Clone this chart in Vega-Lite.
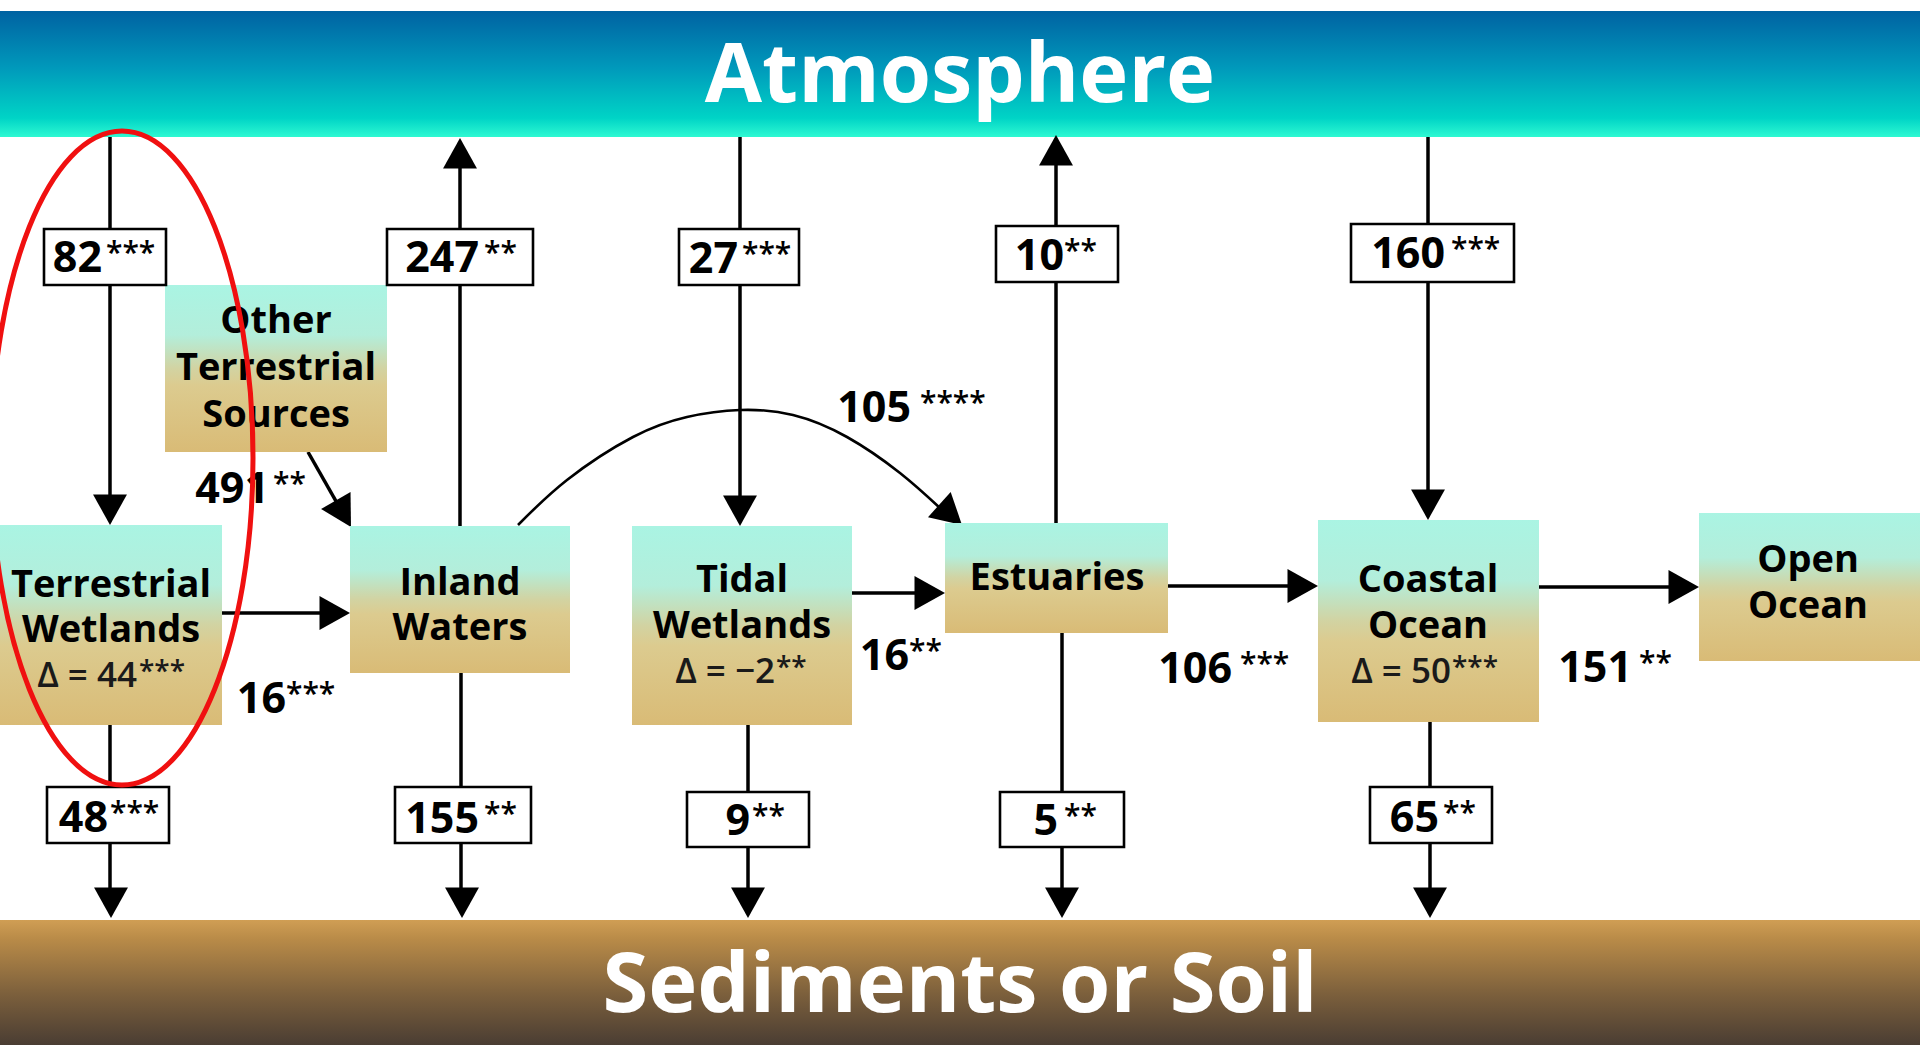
{
  "$schema": "https://vega.github.io/schema/vega-lite/v6.json",
  "width": 1920,
  "height": 1045,
  "autosize": {"type": "none"},
  "padding": 0,
  "background": "white",
  "config": {"view": {"stroke": null}},
  "datasets": {
    "bands": [
      {"band": "Atmosphere", "x": 0, "x2": 1920, "y": 11, "y2": 137},
      {"band": "Sediments or Soil", "x": 0, "x2": 1920, "y": 920, "y2": 1045}
    ],
    "bandLabels": [
      {"label": "Atmosphere", "x": 960, "y": 102},
      {"label": "Sediments or Soil", "x": 960, "y": 1012}
    ],
    "nodes": [
      {"node": "Terrestrial Wetlands", "x": 0, "x2": 222, "y": 525, "y2": 725},
      {"node": "Other Terrestrial Sources", "x": 165, "x2": 387, "y": 285, "y2": 452},
      {"node": "Inland Waters", "x": 350, "x2": 570, "y": 526, "y2": 673},
      {"node": "Tidal Wetlands", "x": 632, "x2": 852, "y": 526, "y2": 725},
      {"node": "Estuaries", "x": 945, "x2": 1168, "y": 523, "y2": 633},
      {"node": "Coastal Ocean", "x": 1318, "x2": 1539, "y": 520, "y2": 722},
      {"node": "Open Ocean", "x": 1699, "x2": 1920, "y": 513, "y2": 661}
    ],
    "nodeLines": [
      {"node": "Terrestrial Wetlands", "line": "Terrestrial", "x": 111, "y": 597},
      {"node": "Terrestrial Wetlands", "line": "Wetlands", "x": 111, "y": 642},
      {"node": "Other Terrestrial Sources", "line": "Other", "x": 276, "y": 333},
      {"node": "Other Terrestrial Sources", "line": "Terrestrial", "x": 276, "y": 380},
      {"node": "Other Terrestrial Sources", "line": "Sources", "x": 276, "y": 427},
      {"node": "Inland Waters", "line": "Inland", "x": 460, "y": 595},
      {"node": "Inland Waters", "line": "Waters", "x": 460, "y": 640},
      {"node": "Tidal Wetlands", "line": "Tidal", "x": 742, "y": 592},
      {"node": "Tidal Wetlands", "line": "Wetlands", "x": 742, "y": 638},
      {"node": "Estuaries", "line": "Estuaries", "x": 1057, "y": 590},
      {"node": "Coastal Ocean", "line": "Coastal", "x": 1428, "y": 592},
      {"node": "Coastal Ocean", "line": "Ocean", "x": 1428, "y": 638},
      {"node": "Open Ocean", "line": "Open", "x": 1808, "y": 572},
      {"node": "Open Ocean", "line": "Ocean", "x": 1808, "y": 618}
    ],
    "flows": [
      {"flow": "Atmosphere to Terrestrial Wetlands", "x": 110, "y": 137, "x2": 110, "y2": 510},
      {"flow": "Terrestrial Wetlands to Sediments", "x": 110, "y": 725, "x2": 110, "y2": 905},
      {"flow": "Inland Waters to Atmosphere", "x": 460, "y": 526, "x2": 460, "y2": 150},
      {"flow": "Inland Waters to Sediments", "x": 461, "y": 673, "x2": 461, "y2": 905},
      {"flow": "Atmosphere to Tidal Wetlands", "x": 740, "y": 137, "x2": 740, "y2": 510},
      {"flow": "Tidal Wetlands to Sediments", "x": 748, "y": 725, "x2": 748, "y2": 905},
      {"flow": "Estuaries to Atmosphere", "x": 1056, "y": 523, "x2": 1056, "y2": 150},
      {"flow": "Estuaries to Sediments", "x": 1062, "y": 633, "x2": 1062, "y2": 905},
      {"flow": "Atmosphere to Coastal Ocean", "x": 1428, "y": 137, "x2": 1428, "y2": 505},
      {"flow": "Coastal Ocean to Sediments", "x": 1430, "y": 722, "x2": 1430, "y2": 905},
      {"flow": "Terrestrial Wetlands to Inland Waters", "x": 222, "y": 613, "x2": 335, "y2": 613},
      {"flow": "Tidal Wetlands to Estuaries", "x": 852, "y": 593, "x2": 930, "y2": 593},
      {"flow": "Estuaries to Coastal Ocean", "x": 1168, "y": 586, "x2": 1303, "y2": 586},
      {"flow": "Coastal Ocean to Open Ocean", "x": 1539, "y": 587, "x2": 1684, "y2": 587},
      {"flow": "Other Terrestrial Sources to Inland Waters", "x": 308, "y": 452, "x2": 345, "y2": 517}
    ],
    "heads": [
      {"flow": "Atmosphere to Terrestrial Wetlands", "dir": "down", "x": 110, "y": 525},
      {"flow": "Terrestrial Wetlands to Sediments", "dir": "down", "x": 111, "y": 918},
      {"flow": "Inland Waters to Atmosphere", "dir": "up", "x": 460, "y": 138},
      {"flow": "Inland Waters to Sediments", "dir": "down", "x": 462, "y": 918},
      {"flow": "Atmosphere to Tidal Wetlands", "dir": "down", "x": 740, "y": 526},
      {"flow": "Tidal Wetlands to Sediments", "dir": "down", "x": 748, "y": 918},
      {"flow": "Estuaries to Atmosphere", "dir": "up", "x": 1056, "y": 135},
      {"flow": "Estuaries to Sediments", "dir": "down", "x": 1062, "y": 918},
      {"flow": "Atmosphere to Coastal Ocean", "dir": "down", "x": 1428, "y": 520},
      {"flow": "Coastal Ocean to Sediments", "dir": "down", "x": 1430, "y": 918},
      {"flow": "Terrestrial Wetlands to Inland Waters", "dir": "right", "x": 350, "y": 613},
      {"flow": "Tidal Wetlands to Estuaries", "dir": "right", "x": 945, "y": 593},
      {"flow": "Estuaries to Coastal Ocean", "dir": "right", "x": 1318, "y": 586},
      {"flow": "Coastal Ocean to Open Ocean", "dir": "right", "x": 1699, "y": 587},
      {"flow": "Other Terrestrial Sources to Inland Waters", "dir": "diag", "x": 351, "y": 527},
      {"flow": "Inland Waters to Estuaries", "dir": "curve", "x": 962, "y": 525}
    ],
    "curve": [
      {"i": 0, "x": 518, "y": 525},
      {"i": 1, "x": 567, "y": 480},
      {"i": 2, "x": 633, "y": 437},
      {"i": 3, "x": 687, "y": 417},
      {"i": 4, "x": 740, "y": 410},
      {"i": 5, "x": 793, "y": 415},
      {"i": 6, "x": 847, "y": 437},
      {"i": 7, "x": 900, "y": 473},
      {"i": 8, "x": 940, "y": 508}
    ],
    "boxes": [
      {"num": "82", "x": 44, "x2": 166, "y": 229, "y2": 285},
      {"num": "247", "x": 387, "x2": 533, "y": 229, "y2": 285},
      {"num": "27", "x": 679, "x2": 799, "y": 229, "y2": 285},
      {"num": "10", "x": 996, "x2": 1118, "y": 226, "y2": 282},
      {"num": "160", "x": 1351, "x2": 1514, "y": 224, "y2": 282},
      {"num": "48", "x": 47, "x2": 169, "y": 787, "y2": 843},
      {"num": "155", "x": 395, "x2": 531, "y": 787, "y2": 843},
      {"num": "9", "x": 687, "x2": 809, "y": 792, "y2": 847},
      {"num": "5", "x": 1000, "x2": 1124, "y": 792, "y2": 847},
      {"num": "65", "x": 1370, "x2": 1492, "y": 787, "y2": 843}
    ],
    "values": [
      {"num": "82", "ast": "***", "nx": 102, "ax": 106, "y": 272},
      {"num": "247", "ast": "**", "nx": 479, "ax": 484, "y": 272},
      {"num": "27", "ast": "***", "nx": 738, "ax": 742, "y": 273},
      {"num": "10", "ast": "**", "nx": 1064, "ax": 1064, "y": 270},
      {"num": "160", "ast": "***", "nx": 1445, "ax": 1451, "y": 268},
      {"num": "48", "ast": "***", "nx": 108, "ax": 110, "y": 832},
      {"num": "155", "ast": "**", "nx": 479, "ax": 484, "y": 833},
      {"num": "9", "ast": "**", "nx": 750, "ax": 752, "y": 835},
      {"num": "5", "ast": "**", "nx": 1058, "ax": 1064, "y": 835},
      {"num": "65", "ast": "**", "nx": 1439, "ax": 1443, "y": 832},
      {"num": "491", "ast": "**", "nx": 269, "ax": 273, "y": 503},
      {"num": "16", "ast": "***", "nx": 286, "ax": 286, "y": 713},
      {"num": "105", "ast": "****", "nx": 911, "ax": 920, "y": 422},
      {"num": "16", "ast": "**", "nx": 909, "ax": 909, "y": 670},
      {"num": "106", "ast": "***", "nx": 1232, "ax": 1240, "y": 683},
      {"num": "151", "ast": "**", "nx": 1632, "ax": 1639, "y": 682}
    ],
    "deltas": [
      {"node": "Terrestrial Wetlands", "delta": "Δ = 44", "ast": "***", "nx": 137, "ax": 139, "y": 687},
      {"node": "Tidal Wetlands", "delta": "Δ = −2", "ast": "**", "nx": 775, "ax": 776, "y": 683},
      {"node": "Coastal Ocean", "delta": "Δ = 50", "ast": "***", "nx": 1451, "ax": 1452, "y": 683}
    ],
    "marker": [
      {"note": "highlight", "x": 122, "y": 458}
    ]
  },
  "layer": [
    {
      "data": {"name": "bands"},
      "transform": [{"filter": "datum.band === 'Atmosphere'"}],
      "mark": {"type": "rect", "fill": {"gradient": "linear", "x1": 0, "y1": 0, "x2": 0, "y2": 1, "stops": [
        {"offset": 0, "color": "#0062a2"},
        {"offset": 0.45, "color": "#0099bb"},
        {"offset": 0.85, "color": "#00d4c6"},
        {"offset": 1, "color": "#2ef9d2"}]}},
      "encoding": {
        "x": {"field": "x", "type": "quantitative", "scale": {"domain": [0, 1920], "nice": false, "zero": false}, "axis": null},
        "x2": {"field": "x2"},
        "y": {"field": "y", "type": "quantitative", "scale": {"domain": [0, 1045], "nice": false, "zero": false, "reverse": true}, "axis": null},
        "y2": {"field": "y2"}
      }
    },
    {
      "data": {"name": "bands"},
      "transform": [{"filter": "datum.band !== 'Atmosphere'"}],
      "mark": {"type": "rect", "fill": {"gradient": "linear", "x1": 0, "y1": 0, "x2": 0, "y2": 1, "stops": [
        {"offset": 0, "color": "#d09e54"},
        {"offset": 0.15, "color": "#b98b48"},
        {"offset": 0.6, "color": "#7b5f3c"},
        {"offset": 1, "color": "#4a3d33"}]}},
      "encoding": {
        "x": {"field": "x", "type": "quantitative", "axis": null},
        "x2": {"field": "x2"},
        "y": {"field": "y", "type": "quantitative", "axis": null},
        "y2": {"field": "y2"}
      }
    },
    {
      "data": {"name": "bandLabels"},
      "mark": {"type": "text", "align": "center", "baseline": "alphabetic", "font": "Open Sans", "fontWeight": "bold", "fontSize": 83, "fill": "white"},
      "encoding": {
        "x": {"field": "x", "type": "quantitative", "axis": null},
        "y": {"field": "y", "type": "quantitative", "axis": null},
        "text": {"field": "label"}
      }
    },
    {
      "data": {"name": "flows"},
      "mark": {"type": "rule", "stroke": "black", "strokeWidth": 3.5},
      "encoding": {
        "x": {"field": "x", "type": "quantitative", "axis": null},
        "x2": {"field": "x2"},
        "y": {"field": "y", "type": "quantitative", "axis": null},
        "y2": {"field": "y2"}
      }
    },
    {
      "data": {"name": "curve"},
      "mark": {"type": "line", "stroke": "black", "strokeWidth": 2.6, "interpolate": "natural"},
      "encoding": {
        "x": {"field": "x", "type": "quantitative", "axis": null},
        "y": {"field": "y", "type": "quantitative", "axis": null},
        "order": {"field": "i", "type": "quantitative"}
      }
    },
    {
      "data": {"name": "heads"},
      "mark": {"type": "point", "filled": true, "fill": "black", "opacity": 1, "size": 1150, "strokeWidth": 0},
      "encoding": {
        "x": {"field": "x", "type": "quantitative", "axis": null},
        "y": {"field": "y", "type": "quantitative", "axis": null},
        "shape": {"field": "dir", "type": "nominal", "legend": null, "scale": {
          "domain": ["down", "up", "right", "diag", "curve"],
          "range": [
            "M-1,-1.8L1,-1.8L0,0Z",
            "M-1,1.8L1,1.8L0,0Z",
            "M-1.8,-1L-1.8,1L0,0Z",
            "M-1.764,-1.064L-0.028,-2.06L0,0Z",
            "M-2.006,-0.461L-0.668,-1.947L0,0Z"
          ]}}
      }
    },
    {
      "data": {"name": "nodes"},
      "mark": {"type": "rect", "fill": {"gradient": "linear", "x1": 0, "y1": 0, "x2": 0, "y2": 1, "stops": [
        {"offset": 0, "color": "#aaf4e3"},
        {"offset": 0.3, "color": "#b3eedb"},
        {"offset": 0.5, "color": "#d2d3a2"},
        {"offset": 0.6, "color": "#dccb8f"},
        {"offset": 1, "color": "#d9bb76"}]}},
      "encoding": {
        "x": {"field": "x", "type": "quantitative", "axis": null},
        "x2": {"field": "x2"},
        "y": {"field": "y", "type": "quantitative", "axis": null},
        "y2": {"field": "y2"}
      }
    },
    {
      "data": {"name": "nodeLines"},
      "mark": {"type": "text", "align": "center", "baseline": "alphabetic", "font": "Open Sans", "fontWeight": "bold", "fontSize": 38, "fill": "black"},
      "encoding": {
        "x": {"field": "x", "type": "quantitative", "axis": null},
        "y": {"field": "y", "type": "quantitative", "axis": null},
        "text": {"field": "line"}
      }
    },
    {
      "data": {"name": "boxes"},
      "mark": {"type": "rect", "fill": "white", "stroke": "black", "strokeWidth": 2.6},
      "encoding": {
        "x": {"field": "x", "type": "quantitative", "axis": null},
        "x2": {"field": "x2"},
        "y": {"field": "y", "type": "quantitative", "axis": null},
        "y2": {"field": "y2"}
      }
    },
    {
      "data": {"name": "values"},
      "mark": {"type": "text", "align": "right", "baseline": "alphabetic", "font": "Open Sans", "fontWeight": "bold", "fontSize": 43, "fill": "black"},
      "encoding": {
        "x": {"field": "nx", "type": "quantitative", "axis": null},
        "y": {"field": "y", "type": "quantitative", "axis": null},
        "text": {"field": "num"}
      }
    },
    {
      "data": {"name": "values"},
      "mark": {"type": "text", "align": "left", "baseline": "alphabetic", "font": "Open Sans", "fontWeight": 600, "fontSize": 30, "dy": -9, "fill": "black"},
      "encoding": {
        "x": {"field": "ax", "type": "quantitative", "axis": null},
        "y": {"field": "y", "type": "quantitative", "axis": null},
        "text": {"field": "ast"}
      }
    },
    {
      "data": {"name": "deltas"},
      "mark": {"type": "text", "align": "right", "baseline": "alphabetic", "font": "Open Sans", "fontWeight": 600, "fontSize": 35, "fill": "#1a1a1a"},
      "encoding": {
        "x": {"field": "nx", "type": "quantitative", "axis": null},
        "y": {"field": "y", "type": "quantitative", "axis": null},
        "text": {"field": "delta"}
      }
    },
    {
      "data": {"name": "deltas"},
      "mark": {"type": "text", "align": "left", "baseline": "alphabetic", "font": "Open Sans", "fontWeight": 600, "fontSize": 28, "dy": -6, "fill": "#1a1a1a"},
      "encoding": {
        "x": {"field": "ax", "type": "quantitative", "axis": null},
        "y": {"field": "y", "type": "quantitative", "axis": null},
        "text": {"field": "ast"}
      }
    },
    {
      "data": {"name": "marker"},
      "mark": {"type": "point", "clip": true, "filled": false, "fill": null, "stroke": "#f01010", "strokeWidth": 5, "opacity": 1, "size": 68644,
        "shape": "M-1,0A1,2.496,0,1,1,1,0A1,2.496,0,1,1,-1,0Z"},
      "encoding": {
        "x": {"field": "x", "type": "quantitative", "axis": null},
        "y": {"field": "y", "type": "quantitative", "axis": null}
      }
    }
  ]
}
